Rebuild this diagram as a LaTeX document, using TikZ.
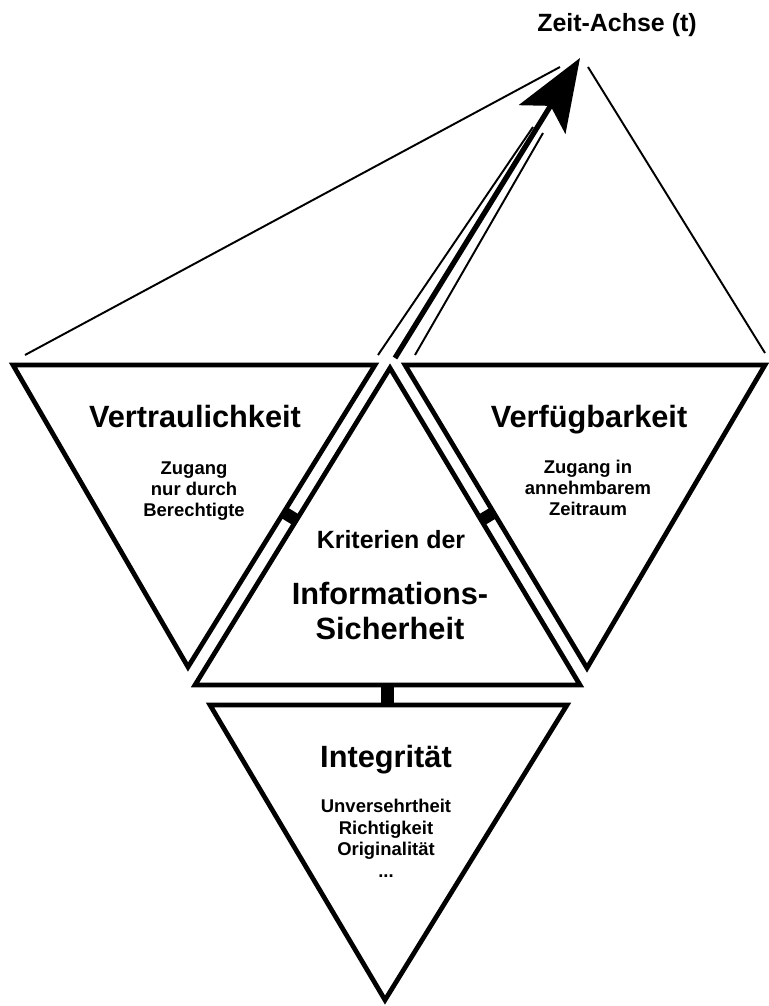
\documentclass[tikz,border=0pt]{standalone}
\usepackage{fontspec}
\setmainfont{Liberation Sans}
\usetikzlibrary{arrows.meta,calc}

\begin{document}
\begin{tikzpicture}[x=0.02cm, y=-0.02cm,
    tri/.style={line width=2.7pt},
    bar/.style={line width=7pt},
    shaft/.style={line width=3pt, -{Stealth[length=41pt, width=31pt, inset=9pt]}},
    guide/.style={line width=1.1pt},
    titletext/.style={inner sep=0pt, anchor=base, font=\bfseries\fontsize{17.5}{20}\selectfont},
    midtext/.style={inner sep=0pt, anchor=base, font=\bfseries\fontsize{14.2}{17}\selectfont},
    subtext/.style={inner sep=0pt, anchor=north, align=center, font=\bfseries\fontsize{10.5}{12}\selectfont}]
    \useasboundingbox (0,0) rectangle (768,1006);

    % Triangle corners
    \coordinate (vl) at (13,365);  \coordinate (vr) at (375,365); \coordinate (vb) at (188,667);
    \coordinate (fl) at (405,365); \coordinate (fr) at (765,365); \coordinate (fb) at (587,668);
    \coordinate (kt) at (390,368); \coordinate (kl) at (195,685); \coordinate (kr) at (580,685);
    \coordinate (il) at (210,705); \coordinate (ir) at (567,705); \coordinate (ib) at (385,1000);

    % Triangles
    \draw[tri] (vl) -- (vr) -- (vb) -- cycle;
    \draw[tri] (fl) -- (fr) -- (fb) -- cycle;
    \draw[tri] (kt) -- (kr) -- (kl) -- cycle;
    \draw[tri] (il) -- (ir) -- (ib) -- cycle;

    % Links between the triangles
    \coordinate (lk) at ($(kt)!0.48!(kl)$);
    \coordinate (lv) at ($(vr)!(lk)!(vb)$);
    \coordinate (rk) at ($(kt)!0.48!(kr)$);
    \coordinate (rv) at ($(fl)!(rk)!(fb)$);
    \coordinate (bk) at ($(kl)!0.5!(kr)$);
    \coordinate (bv) at ($(il)!(bk)!(ir)$);
    \draw[bar] (lk) -- (lv);
    \draw[bar] (rk) -- (rv);
    \draw[bar] (bk) -- (bv);

    % Time axis
    \node[midtext] (zeit) at (617,32) {Zeit-Achse (t)};
    \coordinate (tfoot) at (395,358);
    \coordinate (ttip) at (580,58);
    \draw[shaft] (tfoot) -- (ttip);
    \coordinate (la) at (378,355); \coordinate (lb) at (533,127);
    \coordinate (ra) at (415,355); \coordinate (rb) at (543,133);
    \draw[guide] (la) -- (lb);
    \draw[guide] (ra) -- (rb);
    \coordinate (gl) at (25,355);  \coordinate (glt) at (560,67);
    \coordinate (gr) at (765,353); \coordinate (grt) at (588,67);
    \draw[guide] (gl) -- (glt);
    \draw[guide] (grt) -- (gr);

    % Labels
    \node[titletext] (vertr) at (195,427) {Vertraulichkeit};
    \node[subtext] (vertrtxt) at (194,461) {Zugang\\nur durch\\Berechtigte};
    \node[titletext] (verf) at (589,427) {Verfügbarkeit};
    \node[subtext] (verftxt) at (588,460) {Zugang in\\annehmbarem\\Zeitraum};
    \node[midtext] (krit) at (391,548) {Kriterien der};
    \node[titletext, anchor=north, align=center, font=\bfseries\fontsize{17.5}{20}\selectfont] (info) at (390,582) {Informations-\\Sicherheit};
    \node[titletext] (integ) at (386,767) {Integrität};
    \node[subtext, font=\bfseries\fontsize{10.5}{12.3}\selectfont] (integtxt) at (386,799) {Unversehrtheit\\Richtigkeit\\Originalität\\...};
\end{tikzpicture}
\end{document}
